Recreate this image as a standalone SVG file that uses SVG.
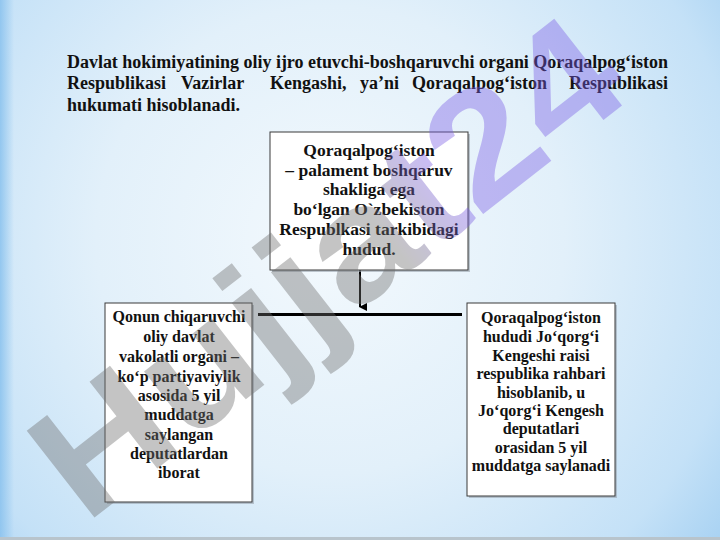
<svg xmlns="http://www.w3.org/2000/svg" width="720" height="540" viewBox="0 0 720 540">
  <defs>
    <radialGradient id="bg" cx="330" cy="240" r="520" gradientUnits="userSpaceOnUse">
      <stop offset="0" stop-color="#f3f9fd"/>
      <stop offset="0.45" stop-color="#e2f0fa"/>
      <stop offset="0.8" stop-color="#c4e1f7"/>
      <stop offset="1" stop-color="#9fcdf1"/>
    </radialGradient>
    <linearGradient id="edge" x1="0" y1="0" x2="1" y2="0">
      <stop offset="0" stop-color="#8cc3ee" stop-opacity="0.9"/>
      <stop offset="1" stop-color="#8cc3ee" stop-opacity="0"/>
    </linearGradient>
    <linearGradient id="wm" x1="415" y1="0" x2="495" y2="0" gradientUnits="userSpaceOnUse">
      <stop offset="0" stop-color="#6e6e6e"/>
      <stop offset="1" stop-color="#7a5ce6"/>
    </linearGradient>
    <marker id="arrow" markerWidth="8" markerHeight="8" refX="4" refY="7" orient="auto" markerUnits="userSpaceOnUse" viewBox="0 0 8 8">
      <path d="M0,0 L8,0 L4,8 Z" fill="#000"/>
    </marker>
    <style>
      .para { font-family: "Liberation Serif", "Times New Roman", serif; font-weight: bold; font-size: 18px; fill: #111; }
      .box { fill: #ffffff; stroke: #3a3a3a; stroke-width: 1; }
      .shadow { fill: #9aa4ad; opacity: 0.6; }
      .t17 { font-family: "Liberation Serif", "Times New Roman", serif; font-weight: bold; font-size: 17.5px; fill: #111; text-anchor: middle; }
      .t16 { font-family: "Liberation Serif", "Times New Roman", serif; font-weight: bold; font-size: 16px; fill: #111; text-anchor: middle; }
      .conn { stroke: #000; fill: none; }
    </style>
  </defs>

  <rect x="0" y="0" width="720" height="540" fill="url(#bg)"/>
  <rect x="0" y="0" width="14" height="540" fill="url(#edge)"/>
  <rect x="0" y="537" width="720" height="3" fill="#b8c4cc"/>

  <g id="heading">
    <text class="para" x="67" y="68" textLength="601" lengthAdjust="spacing">Davlat hokimiyatining oliy ijro etuvchi-boshqaruvchi organi Qoraqalpog‘iston</text>
    <text class="para" y="89"><tspan x="67">Respublikasi</tspan><tspan x="181">Vazirlar</tspan><tspan x="270">Kengashi,</tspan><tspan x="360">ya’ni</tspan><tspan x="412">Qoraqalpog‘iston</tspan></text>
    <text class="para" x="668" y="89" text-anchor="end">Respublikasi</text>
    <text class="para" x="67" y="111">hukumati hisoblanadi.</text>
  </g>

  <g id="connectors">
    <line class="conn" x1="360" y1="270" x2="360" y2="307" stroke-width="2" marker-end="url(#arrow)"/>
    <line class="conn" x1="258" y1="314.5" x2="462" y2="314.5" stroke-width="3"/>
  </g>

  <g id="node-top">
    <rect class="shadow" x="272" y="134" width="198" height="138"/>
    <rect class="box" x="270" y="132" width="198" height="138"/>
    <text class="t17" x="369" y="156">Qoraqalpog‘iston</text>
    <text class="t17" x="369" y="176">– palament boshqaruv</text>
    <text class="t17" x="369" y="195">shakliga ega</text>
    <text class="t17" x="369" y="215">bo‘lgan O`zbekiston</text>
    <text class="t17" x="369" y="235">Respublkasi tarkibidagi</text>
    <text class="t17" x="369" y="255">hudud.</text>
  </g>

  <g id="node-left">
    <rect class="shadow" x="107" y="305" width="147" height="199"/>
    <rect class="box" x="105" y="303" width="147" height="199"/>
    <text class="t16" x="179" y="322">Qonun chiqaruvchi</text>
    <text class="t16" x="179" y="342">oliy davlat</text>
    <text class="t16" x="179" y="362">vakolatli organi –</text>
    <text class="t16" x="179" y="382">ko‘p partiyaviylik</text>
    <text class="t16" x="179" y="401">asosida 5 yil</text>
    <text class="t16" x="179" y="420">muddatga</text>
    <text class="t16" x="179" y="440">saylangan</text>
    <text class="t16" x="179" y="459">deputatlardan</text>
    <text class="t16" x="179" y="478">iborat</text>
  </g>

  <g id="node-right">
    <rect class="shadow" x="469" y="305" width="148" height="193"/>
    <rect class="box" x="467" y="303" width="148" height="193"/>
    <text class="t16" x="541" y="323">Qoraqalpog‘iston</text>
    <text class="t16" x="541" y="342">hududi Jo‘qorg‘i</text>
    <text class="t16" x="541" y="361">Kengeshi raisi</text>
    <text class="t16" x="541" y="379">respublika rahbari</text>
    <text class="t16" x="541" y="398">hisoblanib, u</text>
    <text class="t16" x="541" y="416">Jo‘qorg‘i Kengesh</text>
    <text class="t16" x="541" y="434">deputatlari</text>
    <text class="t16" x="541" y="453">orasidan 5 yil</text>
    <text class="t16" x="541" y="471">muddatga saylanadi</text>
  </g>

  <g id="watermark" opacity="0.4">
    <text x="0" y="0" transform="translate(85,525) rotate(-38)" font-family="Liberation Sans, Arial, sans-serif" font-weight="bold" font-size="160" fill="url(#wm)" textLength="699" lengthAdjust="spacingAndGlyphs">Hujjat24</text>
  </g>
</svg>
